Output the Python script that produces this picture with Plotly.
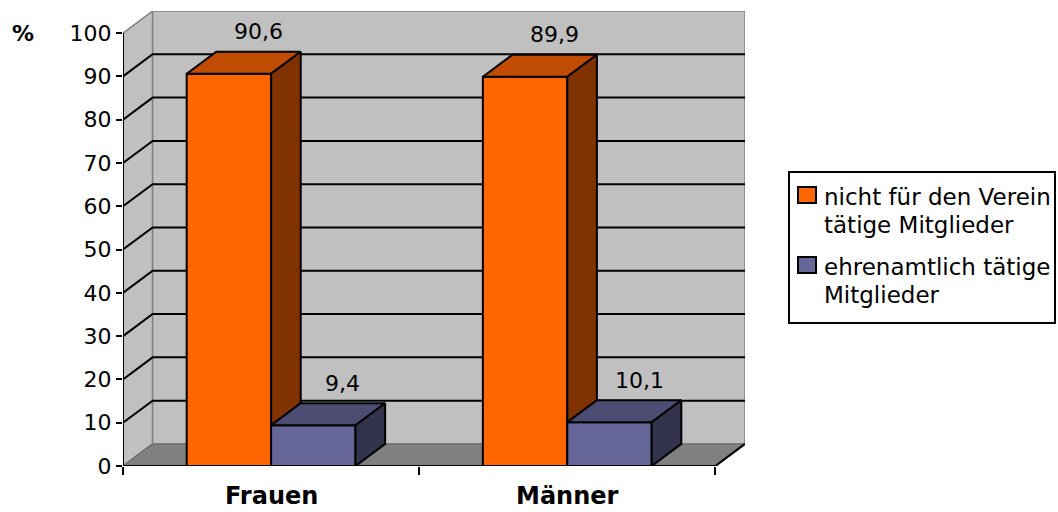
import plotly.graph_objects as go

# ---- data ----
categories = ["Frauen", "Männer"]
cat_pos = [0, 1]
series_names = ["nicht für den Verein tätige Mitglieder", "ehrenamtlich tätige Mitglieder"]
inactive = [90.6, 89.9]
volunteer = [9.4, 10.1]
value_labels_inactive = ["90,6", "89,9"]
value_labels_volunteer = ["9,4", "10,1"]
y_ticks = [0, 10, 20, 30, 40, 50, 60, 70, 80, 90, 100]
legend_lines = [["nicht für den Verein", "tätige Mitglieder"], ["ehrenamtlich tätige", "Mitglieder"]]

# ---- style / geometry ----
W, H = 1058, 512
ML, MR, MT, MB = 123, 313, 11, 46
DX, DY = 0.1, 5.1          # 3D depth in data units
BAR_W = 0.285
XMIN, XMAX = -0.5, 1.5
YMAX = 100
FONT = "DejaVu Sans"

C_OR = "#FF6600"; C_OR_TOP = "#BF4C00"; C_OR_SIDE = "#803300"
C_BL = "#666699"; C_BL_TOP = "#4C4C73"; C_BL_SIDE = "#33334D"
WALL = "#C0C0C0"; FLOOR = "#808080"; EDGE = "#808080"

PW, PH = W - ML - MR, H - MT - MB


def pxx(px):
    return (px - ML) / PW


def pxy(py):
    return (H - MB - py) / PH


fig = go.Figure()

shapes = []
# left wall
shapes.append(dict(type="path", layer="below", xref="x", yref="y",
                   path=f"M {XMIN},0 L {XMIN},{YMAX} L {XMIN+DX},{YMAX+DY} L {XMIN+DX},{DY} Z",
                   fillcolor=WALL, line=dict(color=EDGE, width=1.5)))
# back wall
shapes.append(dict(type="rect", layer="below", xref="x", yref="y",
                   x0=XMIN + DX, x1=XMAX + DX, y0=DY, y1=YMAX + DY,
                   fillcolor=WALL, line=dict(color=EDGE, width=1.5)))
# floor
shapes.append(dict(type="path", layer="below", xref="x", yref="y",
                   path=f"M {XMIN},0 L {XMAX},0 L {XMAX+DX},{DY} L {XMIN+DX},{DY} Z",
                   fillcolor=FLOOR, line=dict(color="#707070", width=1.5)))
# gridlines
for v in y_ticks[1:-1]:
    shapes.append(dict(type="path", layer="below", xref="x", yref="y",
                       path=f"M {XMIN},{v} L {XMIN+DX},{v+DY} L {XMAX+DX},{v+DY}",
                       line=dict(color="black", width=2)))
# floor right edge and axes lines
shapes.append(dict(type="line", layer="below", xref="x", yref="y",
                   x0=XMAX, y0=0, x1=XMAX + DX, y1=DY, line=dict(color="black", width=2)))
shapes.append(dict(type="line", layer="above", xref="x", yref="y",
                   x0=XMIN, y0=0, x1=XMAX, y1=0, line=dict(color="black", width=2)))
shapes.append(dict(type="line", layer="above", xref="x", yref="y",
                   x0=XMIN, y0=0, x1=XMIN, y1=YMAX, line=dict(color="black", width=2)))

# ---- bars: front faces ----
fig.add_trace(go.Bar(x=cat_pos, y=inactive, width=BAR_W, offset=-BAR_W,
                     marker=dict(color=C_OR, line=dict(color="black", width=2)),
                     name=series_names[0], showlegend=False, hoverinfo="skip"))
fig.add_trace(go.Bar(x=cat_pos, y=volunteer, width=BAR_W, offset=0,
                     marker=dict(color=C_BL, line=dict(color="black", width=2)),
                     name=series_names[1], showlegend=False, hoverinfo="skip"))


def face(xs, ys, color):
    fig.add_trace(go.Scatter(x=xs, y=ys, mode="lines", fill="toself", fillcolor=color,
                             line=dict(color="black", width=2), showlegend=False,
                             hoverinfo="skip"))


for c, vo, vb in zip(cat_pos, inactive, volunteer):
    # orange top & side (side visible above the blue bar)
    x0, x1 = c - BAR_W, c
    face([x0, x0 + DX, x1 + DX, x1, x0], [vo, vo + DY, vo + DY, vo, vo], C_OR_TOP)
    face([x1, x1, x1 + DX, x1 + DX, x1], [vb, vo, vo + DY, vb + DY, vb], C_OR_SIDE)
    # blue top & side
    x0, x1 = c, c + BAR_W
    face([x0, x0 + DX, x1 + DX, x1, x0], [vb, vb + DY, vb + DY, vb, vb], C_BL_TOP)
    face([x1, x1, x1 + DX, x1 + DX, x1], [0, vb, vb + DY, DY, 0], C_BL_SIDE)

annotations = []
# value labels
for c, vo, vb, lo, lb in zip(cat_pos, inactive, volunteer, value_labels_inactive, value_labels_volunteer):
    annotations.append(dict(x=c - BAR_W / 2 + DX, y=vo + DY, xref="x", yref="y", text=lo,
                            showarrow=False, yanchor="middle", yshift=20,
                            font=dict(family=FONT, size=22, color="black")))
    annotations.append(dict(x=c + BAR_W / 2 + DX, y=vb + DY, xref="x", yref="y", text=lb,
                            showarrow=False, yanchor="middle", yshift=20,
                            font=dict(family=FONT, size=22, color="black")))
# category labels
for c, name in zip(cat_pos, categories):
    annotations.append(dict(x=c, y=pxy(496), xref="x", yref="paper", text=f"<b>{name}</b>",
                            showarrow=False, xanchor="center", yanchor="middle", borderpad=0,
                            font=dict(family=FONT, size=24, color="black")))
# % label
annotations.append(dict(x=pxx(23), y=pxy(33), xref="paper", yref="paper", text="<b>%</b>",
                        showarrow=False, xanchor="center", yanchor="middle",
                        font=dict(family=FONT, size=22, color="black")))

# ---- legend (drawn manually) ----
shapes.append(dict(type="rect", xref="paper", yref="paper",
                   x0=pxx(789), x1=pxx(1055), y0=pxy(323), y1=pxy(172),
                   fillcolor="white", line=dict(color="black", width=2)))
marker_colors = [C_OR, C_BL]
marker_tops = [187, 257]
line_centers = [[197, 225], [267, 295]]
for col, mt, lines, centers in zip(marker_colors, marker_tops, legend_lines, line_centers):
    shapes.append(dict(type="rect", xref="paper", yref="paper",
                       x0=pxx(798), x1=pxx(816), y0=pxy(mt + 16), y1=pxy(mt),
                       fillcolor=col, line=dict(color="black", width=2)))
    for t, cy in zip(lines, centers):
        annotations.append(dict(x=pxx(822), y=pxy(cy), xref="paper", yref="paper", text=t,
                                showarrow=False, xanchor="left", yanchor="middle",
                                font=dict(family=FONT, size=23, color="black")))

fig.update_layout(
    width=W, height=H,
    margin=dict(l=ML, r=MR, t=MT, b=MB, pad=0),
    paper_bgcolor="white", plot_bgcolor="white",
    barmode="overlay", showlegend=False,
    shapes=shapes, annotations=annotations,
    xaxis=dict(range=[XMIN, XMAX + DX], showgrid=False, zeroline=False, showline=False,
               tickvals=[XMIN, 0.5, XMAX], ticktext=["", "", ""], ticks="outside",
               ticklen=8, tickwidth=2, tickcolor="black", fixedrange=True),
    yaxis=dict(range=[0, YMAX + DY], showgrid=False, zeroline=False, showline=False,
               tickvals=y_ticks, ticktext=[str(v) for v in y_ticks], ticks="outside",
               ticklen=6, tickwidth=2, tickcolor="black",
               tickfont=dict(family=FONT, size=22, color="black"), fixedrange=True),
)

fig.write_html("out.html", config={"displayModeBar": False})
